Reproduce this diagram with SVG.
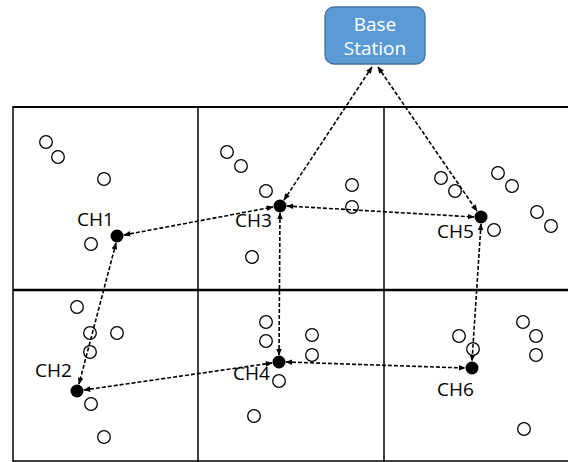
<svg xmlns="http://www.w3.org/2000/svg" width="568" height="462" viewBox="0 0 568 462">
<defs>
<style>
.grid{stroke:#000;fill:none}
.sn{fill:#fff;stroke:#000;stroke-width:1.3}
.ch{fill:#000}
.lbl{font-family:"Open Sans","Noto Sans",sans-serif;font-size:19px;fill:#000}
.bs{font-family:"Open Sans","Noto Sans",sans-serif;font-size:19px;fill:#fff;text-anchor:middle}
.link{stroke:#000;stroke-width:1.6;stroke-dasharray:4 2;fill:none;marker-start:url(#ah);marker-end:url(#ah)}
</style>
<marker id="ah" viewBox="0 0 10 10" refX="9" refY="5" markerWidth="7" markerHeight="7" markerUnits="userSpaceOnUse" orient="auto-start-reverse">
<path d="M0,1 L10,5 L0,9 Z" fill="#000"/>
</marker>
</defs>
<rect width="568" height="462" fill="#fff"/>
<g id="grid">
<line class="grid" x1="13" y1="107" x2="568" y2="107" stroke-width="2"/>
<line class="grid" x1="13" y1="290" x2="568" y2="290" stroke-width="2.6"/>
<line class="grid" x1="13" y1="461" x2="568" y2="461" stroke-width="1.5"/>
<line class="grid" x1="13" y1="106" x2="13" y2="462" stroke-width="1.5"/>
<line class="grid" x1="198" y1="106" x2="198" y2="462" stroke-width="1.5"/>
<line class="grid" x1="384" y1="106" x2="384" y2="462" stroke-width="1.5"/>
</g>
<g id="sensors">
<circle class="sn" cx="46" cy="142" r="6.3"/>
<circle class="sn" cx="58" cy="157" r="6.3"/>
<circle class="sn" cx="104" cy="179" r="6.3"/>
<circle class="sn" cx="91" cy="244" r="6.3"/>
<circle class="sn" cx="227" cy="152" r="6.3"/>
<circle class="sn" cx="241" cy="166" r="6.3"/>
<circle class="sn" cx="266" cy="191" r="6.3"/>
<circle class="sn" cx="352" cy="185" r="6.3"/>
<circle class="sn" cx="352" cy="207" r="6.3"/>
<circle class="sn" cx="252" cy="257" r="6.3"/>
<circle class="sn" cx="441" cy="178" r="6.3"/>
<circle class="sn" cx="455" cy="191" r="6.3"/>
<circle class="sn" cx="498" cy="173" r="6.3"/>
<circle class="sn" cx="512" cy="186" r="6.3"/>
<circle class="sn" cx="537" cy="212" r="6.3"/>
<circle class="sn" cx="551" cy="226" r="6.3"/>
<circle class="sn" cx="494" cy="230" r="6.3"/>
<circle class="sn" cx="77" cy="307" r="6.3"/>
<circle class="sn" cx="90" cy="333" r="6.3"/>
<circle class="sn" cx="117" cy="333" r="6.3"/>
<circle class="sn" cx="90" cy="352" r="6.3"/>
<circle class="sn" cx="91" cy="404" r="6.3"/>
<circle class="sn" cx="104" cy="437" r="6.3"/>
<circle class="sn" cx="266" cy="322" r="6.3"/>
<circle class="sn" cx="266" cy="341" r="6.3"/>
<circle class="sn" cx="312" cy="335" r="6.3"/>
<circle class="sn" cx="312" cy="355" r="6.3"/>
<circle class="sn" cx="279" cy="381" r="6.3"/>
<circle class="sn" cx="254" cy="416" r="6.3"/>
<circle class="sn" cx="459" cy="336" r="6.3"/>
<circle class="sn" cx="473" cy="349" r="6.3"/>
<circle class="sn" cx="523" cy="322" r="6.3"/>
<circle class="sn" cx="536" cy="336" r="6.3"/>
<circle class="sn" cx="536" cy="355" r="6.3"/>
<circle class="sn" cx="524" cy="429" r="6.3"/>
</g>
<g id="connectors">
<line class="link" x1="372" y1="67" x2="284" y2="200"/>
<line class="link" x1="378" y1="67" x2="477" y2="211"/>
<line class="link" x1="124" y1="235" x2="273" y2="207"/>
<line class="link" x1="287" y1="206" x2="474" y2="217"/>
<line class="link" x1="116" y1="243" x2="79" y2="384"/>
<line class="link" x1="280" y1="213" x2="279" y2="355"/>
<line class="link" x1="481" y1="224" x2="472" y2="361"/>
<line class="link" x1="84" y1="390" x2="272" y2="363"/>
<line class="link" x1="286" y1="362" x2="465" y2="368"/>
</g>
<g id="base-station">
<rect x="325" y="7" width="100" height="57" rx="9" fill="#5B9BD5" stroke="#41719C" stroke-width="1.3"/>
<text class="bs" x="375" y="31">Base</text>
<text class="bs" x="375" y="55">Station</text>
</g>
<g id="ch1"><circle class="ch" cx="117" cy="236" r="6.5"/><text class="lbl" x="77" y="226">CH1</text></g>
<g id="ch2"><circle class="ch" cx="77" cy="391" r="6.5"/><text class="lbl" x="35" y="377">CH2</text></g>
<g id="ch3"><circle class="ch" cx="280" cy="206" r="6.5"/><text class="lbl" x="235" y="227">CH3</text></g>
<g id="ch4"><circle class="ch" cx="279" cy="362" r="6.5"/><text class="lbl" x="233" y="380">CH4</text></g>
<g id="ch5"><circle class="ch" cx="481" cy="217" r="6.5"/><text class="lbl" x="437" y="238">CH5</text></g>
<g id="ch6"><circle class="ch" cx="472" cy="368" r="6.5"/><text class="lbl" x="437" y="396">CH6</text></g>
</svg>
